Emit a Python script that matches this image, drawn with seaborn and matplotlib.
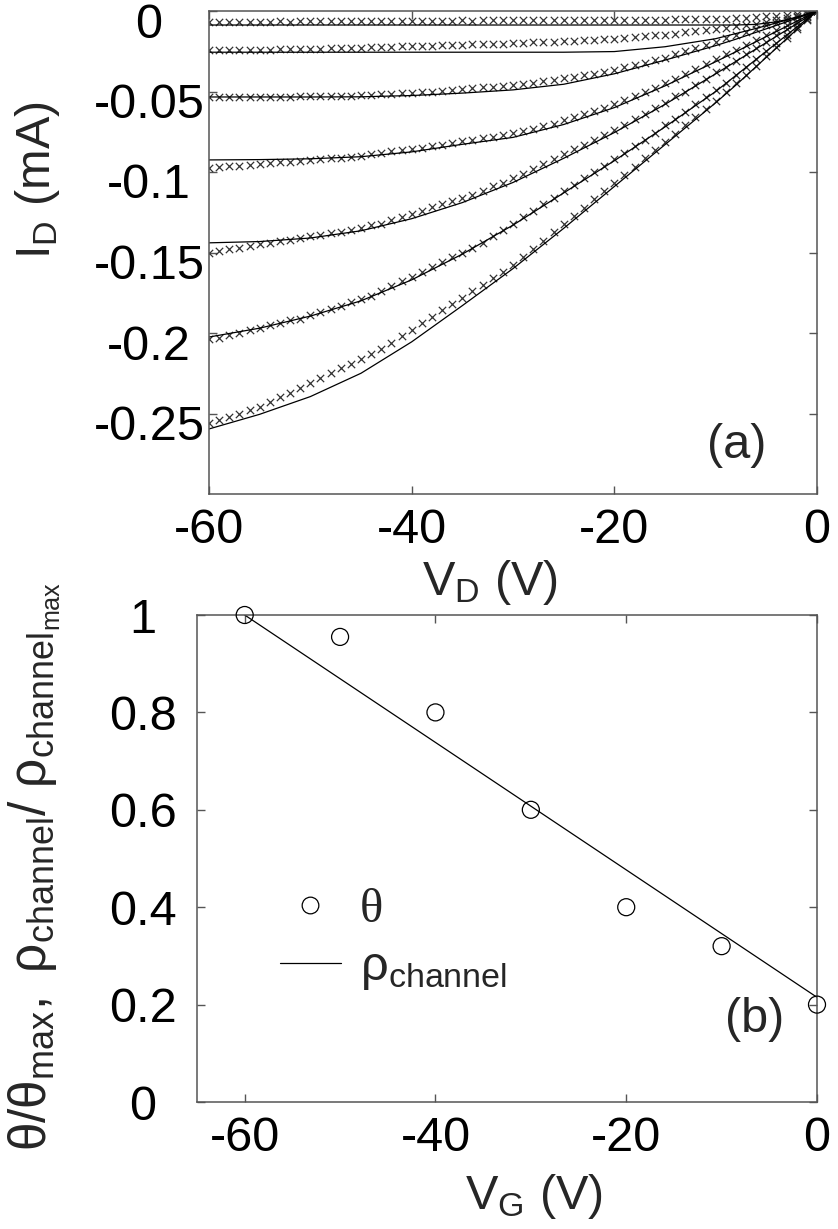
import numpy as np
import pandas as pd
import matplotlib
matplotlib.use("Agg")
import matplotlib.pyplot as plt
import matplotlib.transforms as mtransforms
from matplotlib.lines import Line2D
import seaborn as sns

sns.set_style("ticks")
plt.rcParams["font.family"] = ["Liberation Sans", "DejaVu Sans"]
plt.rcParams["mathtext.fontset"] = "custom"
plt.rcParams["mathtext.rm"] = "Liberation Sans"
plt.rcParams["mathtext.it"] = "Liberation Sans"
plt.rcParams["mathtext.bf"] = "Liberation Sans:bold"
plt.rcParams["axes.unicode_minus"] = False

# ---------------- panel (a) data ----------------
vd_meas = list(range(-60, 1))          # measured V_D points (1 V step)
vd_fit = [-60, -55, -50, -45, -40, -35, -30, -25, -20, -15, -10, -8, -6, -4, -2, 0]

meas1 = [-0.0068, -0.0067, -0.0068, -0.0066, -0.0067, -0.0066, -0.0066, -0.0065, -0.0066, -0.0065,
         -0.0064, -0.0065, -0.0064, -0.0063, -0.0064, -0.0063, -0.0062, -0.0063, -0.0062, -0.0061,
         -0.0062, -0.0061, -0.0060, -0.0061, -0.0060, -0.0059, -0.0060, -0.0059, -0.0058, -0.0059,
         -0.0058, -0.0057, -0.0058, -0.0057, -0.0056, -0.0057, -0.0056, -0.0055, -0.0056, -0.0055,
         -0.0054, -0.0055, -0.0054, -0.0053, -0.0054, -0.0053, -0.0052, -0.0052, -0.0051, -0.0050,
         -0.0049, -0.0047, -0.0045, -0.0042, -0.0038, -0.0034, -0.0029, -0.0023, -0.0016, -0.0008, 0.0]
meas2 = [-0.0245, -0.0245, -0.0243, -0.0243, -0.0242, -0.0240, -0.0240, -0.0238, -0.0237, -0.0235,
         -0.0235, -0.0233, -0.0232, -0.0230, -0.0228, -0.0227, -0.0225, -0.0223, -0.0222, -0.0220,
         -0.0218, -0.0217, -0.0215, -0.0213, -0.0212, -0.0210, -0.0208, -0.0206, -0.0204, -0.0202,
         -0.0200, -0.0197, -0.0195, -0.0192, -0.0190, -0.0187, -0.0184, -0.0181, -0.0178, -0.0175,
         -0.0172, -0.0168, -0.0163, -0.0158, -0.0152, -0.0146, -0.0140, -0.0133, -0.0126, -0.0119,
         -0.0112, -0.0104, -0.0096, -0.0087, -0.0078, -0.0068, -0.0056, -0.0043, -0.0030, -0.0015, 0.0]
meas3 = [-0.0535, -0.0535, -0.0535, -0.0535, -0.0533, -0.0533, -0.0533, -0.0532, -0.0532, -0.0530,
         -0.0530, -0.0530, -0.0528, -0.0527, -0.0525, -0.0523, -0.0520, -0.0518, -0.0515, -0.0512,
         -0.0510, -0.0505, -0.0500, -0.0497, -0.0490, -0.0487, -0.0480, -0.0475, -0.0470, -0.0465,
         -0.0460, -0.0452, -0.0445, -0.0435, -0.0427, -0.0418, -0.0410, -0.0400, -0.0390, -0.0380,
         -0.0365, -0.0350, -0.0335, -0.0320, -0.0305, -0.0290, -0.0270, -0.0250, -0.0230, -0.0210,
         -0.0190, -0.0170, -0.0150, -0.0130, -0.0110, -0.0090, -0.0072, -0.0054, -0.0036, -0.0018, 0.0]
meas4 = [-0.0975, -0.0970, -0.0965, -0.0960, -0.0955, -0.0950, -0.0945, -0.0940, -0.0935, -0.0930,
         -0.0925, -0.0920, -0.0915, -0.0910, -0.0905, -0.0900, -0.0890, -0.0880, -0.0870, -0.0865,
         -0.0860, -0.0850, -0.0840, -0.0830, -0.0820, -0.0810, -0.0800, -0.0790, -0.0780, -0.0770,
         -0.0760, -0.0745, -0.0730, -0.0715, -0.0700, -0.0680, -0.0660, -0.0640, -0.0620, -0.0600,
         -0.0580, -0.0555, -0.0530, -0.0505, -0.0480, -0.0450, -0.0420, -0.0390, -0.0360, -0.0330,
         -0.0300, -0.0270, -0.0240, -0.0210, -0.0180, -0.0150, -0.0120, -0.0090, -0.0060, -0.0030, 0.0]
meas5 = [-0.150, -0.149, -0.148, -0.147, -0.146, -0.145, -0.144, -0.143, -0.142, -0.141,
         -0.140, -0.139, -0.138, -0.137, -0.136, -0.135, -0.133, -0.132, -0.130, -0.128,
         -0.126, -0.124, -0.122, -0.120, -0.118, -0.116, -0.114, -0.112, -0.109, -0.107,
         -0.104, -0.101, -0.098, -0.095, -0.092, -0.089, -0.086, -0.083, -0.080, -0.077,
         -0.074, -0.071, -0.067, -0.064, -0.060, -0.057, -0.053, -0.050, -0.046, -0.042,
         -0.038, -0.035, -0.031, -0.027, -0.023, -0.019, -0.015, -0.011, -0.0075, -0.004, 0.0]
meas6 = [-0.204, -0.203, -0.201, -0.200, -0.198, -0.197, -0.195, -0.194, -0.192, -0.191,
         -0.189, -0.187, -0.185, -0.183, -0.181, -0.179, -0.177, -0.174, -0.171, -0.168,
         -0.165, -0.162, -0.159, -0.156, -0.153, -0.150, -0.147, -0.144, -0.140, -0.136,
         -0.132, -0.128, -0.124, -0.120, -0.116, -0.112, -0.108, -0.104, -0.100, -0.096,
         -0.092, -0.088, -0.084, -0.080, -0.0755, -0.071, -0.0668, -0.0625, -0.058, -0.0535,
         -0.049, -0.0445, -0.040, -0.035, -0.030, -0.025, -0.020, -0.015, -0.010, -0.005, 0.0]
meas7 = [-0.256, -0.254, -0.252, -0.250, -0.248, -0.246, -0.243, -0.240, -0.237, -0.234,
         -0.231, -0.228, -0.225, -0.222, -0.219, -0.216, -0.213, -0.210, -0.206, -0.202,
         -0.198, -0.194, -0.190, -0.186, -0.182, -0.178, -0.174, -0.170, -0.166, -0.162,
         -0.158, -0.153, -0.148, -0.143, -0.1375, -0.1325, -0.1275, -0.1225, -0.117, -0.112,
         -0.107, -0.102, -0.097, -0.0915, -0.0865, -0.0815, -0.0765, -0.071, -0.066, -0.061,
         -0.056, -0.0505, -0.045, -0.0395, -0.034, -0.028, -0.0225, -0.017, -0.0113, -0.0056, 0.0]

fit1 = [-0.0087, -0.0087, -0.0087, -0.0087, -0.0087, -0.0087, -0.0087, -0.0087, -0.0087, -0.0087,
        -0.0087, -0.0087, -0.0083, -0.0067, -0.0040, 0.0]
fit2 = [-0.0256, -0.0256, -0.0256, -0.0256, -0.0256, -0.0256, -0.0256, -0.0256, -0.0252, -0.0222,
        -0.0172, -0.0140, -0.0108, -0.0074, -0.0038, 0.0]
fit3 = [-0.0534, -0.0534, -0.0534, -0.0533, -0.0525, -0.0510, -0.0490, -0.0455, -0.0390, -0.0305,
        -0.0215, -0.0175, -0.0132, -0.0089, -0.0045, 0.0]
fit4 = [-0.0925, -0.0923, -0.0918, -0.0905, -0.0875, -0.0828, -0.0785, -0.0705, -0.0600, -0.0465,
        -0.0315, -0.0253, -0.0190, -0.0127, -0.0064, 0.0]
fit5 = [-0.1440, -0.1432, -0.1410, -0.1365, -0.1290, -0.1190, -0.1065, -0.0915, -0.0755, -0.0580,
        -0.0390, -0.0313, -0.0235, -0.0157, -0.0079, 0.0]
fit6 = [-0.2025, -0.1970, -0.1895, -0.1800, -0.1670, -0.1510, -0.1330, -0.1130, -0.0930, -0.0720,
        -0.0500, -0.0400, -0.0300, -0.0200, -0.0100, 0.0]
fit7 = [-0.2596, -0.2505, -0.2395, -0.2250, -0.2055, -0.1830, -0.1600, -0.1350, -0.1090, -0.0830,
        -0.0570, -0.0460, -0.0345, -0.0230, -0.0115, 0.0]

a_yticks = [0, -0.05, -0.1, -0.15, -0.2, -0.25]
a_yticklabels = ["0", "-0.05", "-0.1", "-0.15", "-0.2", "-0.25"]
a_xticks = [-60, -40, -20, 0]

# ---------------- panel (b) data ----------------
vg = [-60, -50, -40, -30, -20, -10, 0]
theta_norm = [1.0, 0.955, 0.80, 0.60, 0.40, 0.32, 0.20]
vg_line = [-60, 0]
rho_norm = [1.0, 0.215]
b_yticks = [0, 0.2, 0.4, 0.6, 0.8, 1]
b_yticklabels = ["0", "0.2", "0.4", "0.6", "0.8", "1"]
b_xticks = [-60, -40, -20, 0]

meas = [meas1, meas2, meas3, meas4, meas5, meas6, meas7]
fits = [fit1, fit2, fit3, fit4, fit5, fit6, fit7]
df_meas = pd.concat([pd.DataFrame({"VD": vd_meas, "ID": m, "curve": i}) for i, m in enumerate(meas)])
df_fit = pd.concat([pd.DataFrame({"VD": vd_fit, "ID": f, "curve": i}) for i, f in enumerate(fits)])

W, H = 838, 1229
fig = plt.figure(figsize=(W / 100, H / 100), dpi=100)

def ax_rect(l, t, r, b):
    return [l / W, 1 - b / H, (r - l) / W, (b - t) / H]

SPINE = "#555555"
FS = 35

def style_axes(ax, ypad):
    for s in ax.spines.values():
        s.set_color(SPINE)
        s.set_linewidth(1.1)
    ax.tick_params(direction="in", top=True, right=True, length=6, width=1.0,
                   color=SPINE, labelsize=FS, labelcolor="black")
    ax.tick_params(axis="y", pad=ypad)
    ax.tick_params(axis="x", pad=10)
    for lab in ax.get_yticklabels():
        lab.set_horizontalalignment("center")

# ---------------- panel (a) ----------------
ax1 = fig.add_axes(ax_rect(209, 11, 817, 494))
sns.lineplot(data=df_fit, x="VD", y="ID", units="curve", estimator=None, sort=False,
             color="black", linewidth=0.9, ax=ax1, legend=False)
sns.scatterplot(data=df_meas, x="VD", y="ID", marker="x", color="#333333", s=28,
                linewidth=0.9, ax=ax1, legend=False)
ax1.set_xlim(-60, 0)
ax1.set_ylim(-0.3, 0)
ax1.set_xticks(a_xticks)
ax1.set_xticklabels([str(v) for v in a_xticks])
ax1.set_yticks(a_yticks)
ax1.set_yticklabels(a_yticklabels)
style_axes(ax1, (209 - 149) * 0.72)
shift = mtransforms.ScaledTranslation(0, -9 / 100, fig.dpi_scale_trans)
for lab in ax1.get_yticklabels():
    lab.set_transform(lab.get_transform() + shift)
ax1.set_xlabel(r"$\mathregular{V_D}$ (V)", fontsize=FS)
ax1.set_ylabel(r"$\mathregular{I_D}$ (mA)", fontsize=FS)
ax1.xaxis.set_label_coords((490 - 209) / 608, (494 - 558) / 483)
ax1.yaxis.set_label_coords((62 - 209) / 608, 1 - (180 - 11) / 483)
ax1.text((737 - 209) / 608, 1 - (445 - 11) / 483, "(a)", transform=ax1.transAxes,
         fontsize=FS, ha="center", va="center")

# ---------------- panel (b) ----------------
ax2 = fig.add_axes(ax_rect(197, 615, 817, 1102))
sns.lineplot(x=vg_line, y=rho_norm, color="black", linewidth=0.9, ax=ax2)
sns.scatterplot(x=vg, y=theta_norm, marker="o", s=150, facecolor="none",
                edgecolor="black", linewidth=0.9, ax=ax2, zorder=3, clip_on=False)
ax2.set_xlim(-65, 0)
ax2.set_ylim(0, 1)
ax2.set_xticks(b_xticks)
ax2.set_xticklabels([str(v) for v in b_xticks])
ax2.set_yticks(b_yticks)
ax2.set_yticklabels(b_yticklabels)
style_axes(ax2, (197 - 143) * 0.72)
ax2.set_xlabel(r"$\mathregular{V_G}$ (V)", fontsize=FS)
ax2.set_ylabel(r"$\mathregular{θ/θ_{max},\ ρ_{channel}/\ ρ_{channel_{max}}}$", fontsize=37)
ax2.xaxis.set_label_coords((534 - 197) / 620, (1102 - 1172) / 487)
ax2.yaxis.set_label_coords((62 - 197) / 620, 1 - (866 - 615) / 487)
ax2.text((755 - 197) / 620, 1 - (1020 - 615) / 487, "(b)", transform=ax2.transAxes,
         fontsize=FS, ha="center", va="center")

handles = [Line2D([], [], linestyle="none", marker="o", markersize=12, markerfacecolor="none",
                  markeredgecolor="black", markeredgewidth=0.9),
           Line2D([], [], color="black", linewidth=0.9)]
leg = ax2.legend(handles, ["θ", r"$\mathregular{ρ_{channel}}$"], frameon=False, fontsize=FS,
                 loc="upper left", bbox_to_anchor=((280 - 197) / 620, 1 - (888 - 615) / 487),
                 borderpad=0, borderaxespad=0, handlelength=1.25, handletextpad=0.4,
                 labelspacing=0.27)
leg.get_texts()[0].set_family(["Liberation Serif", "DejaVu Serif"])

fig.savefig("out.png", dpi=100)
